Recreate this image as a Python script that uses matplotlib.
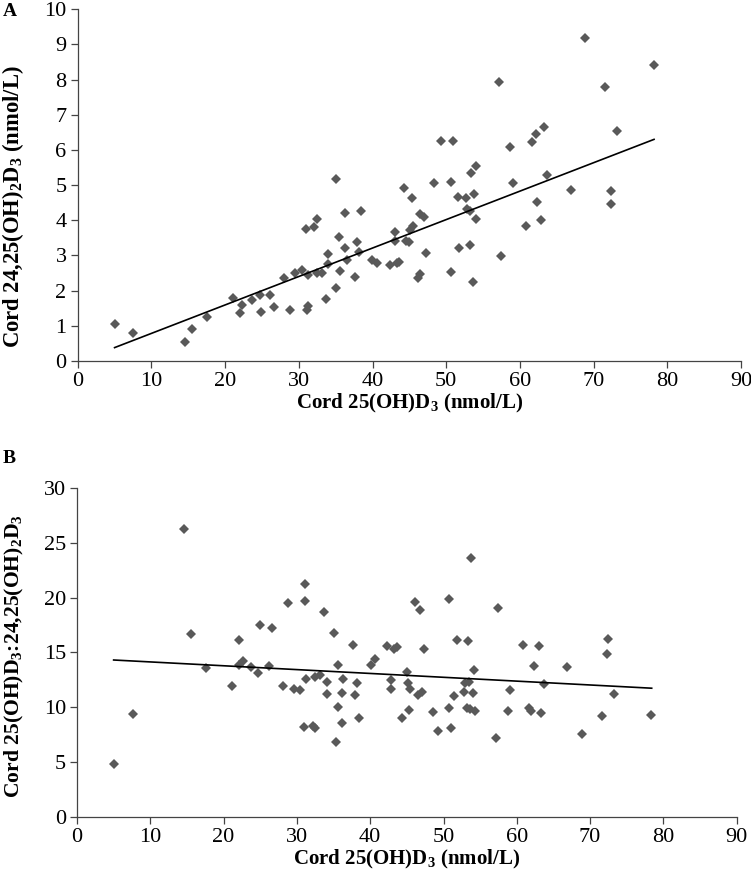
import matplotlib
matplotlib.use("Agg")
import matplotlib.pyplot as plt

plt.rcParams['font.family'] = ['Liberation Serif', 'DejaVu Serif']
plt.rcParams['mathtext.default'] = 'regular'

# Panel A: cord 25(OH)D3 vs cord 24,25(OH)2D3
a_x = [5.1, 7.5, 14.6, 15.5, 17.5, 21.1, 22.0, 22.3, 23.7, 24.7, 24.9, 26.1, 26.6, 28.0, 28.8,
       29.5, 30.4, 31.0, 31.1, 31.2, 31.3, 32.0, 32.4, 32.4, 33.1, 33.7, 33.9, 34.0, 35.0, 35.1,
       35.5, 35.6, 36.2, 36.2, 36.5, 37.6, 37.9, 38.1, 38.4, 39.9, 40.6, 42.4, 43.1, 43.1, 43.3,
       43.6, 44.3, 44.5, 44.9, 45.1, 45.4, 45.5, 46.2, 46.4, 46.4, 47.0, 47.3, 48.4, 49.3, 50.6,
       50.7, 50.9, 51.6, 51.8, 52.7, 52.8, 53.3, 53.2, 53.6, 53.8, 54.1, 53.2, 54.0, 57.2, 57.4,
       58.7, 59.1, 60.8, 61.6, 62.2, 62.3, 62.9, 63.3, 63.7, 66.9, 68.8, 71.5, 72.3, 72.4, 73.2,
       78.2]
a_y = [1.04, 0.79, 0.54, 0.90, 1.26, 1.78, 1.35, 1.59, 1.73, 1.87, 1.40, 1.88, 1.54, 2.35, 1.45,
       2.49, 2.59, 3.74, 1.45, 1.56, 2.44, 3.82, 4.03, 2.49, 2.49, 1.76, 2.76, 3.04, 2.07, 5.18,
       3.53, 2.57, 4.21, 3.20, 2.87, 2.38, 3.39, 3.09, 4.27, 2.87, 2.79, 2.73, 3.67, 3.42, 2.79,
       2.82, 4.91, 3.42, 3.39, 3.72, 4.64, 3.84, 2.35, 2.47, 4.18, 4.10, 3.06, 5.07, 6.26, 2.54,
       5.09, 6.26, 4.67, 3.20, 4.64, 4.31, 5.34, 3.30, 2.24, 4.74, 5.55, 4.27, 4.04, 7.92, 2.99,
       6.09, 5.05, 3.84, 6.23, 6.45, 4.51, 4.01, 6.66, 5.28, 4.86, 9.18, 7.79, 4.84, 4.46, 6.54,
       8.43]
a_fit = (0.0809, -0.025)      # slope, intercept of the trend line
a_fit_range = (5.0, 78.2)

# Panel B: cord 25(OH)D3 vs ratio 25(OH)D3:24,25(OH)2D3
b_x = [5.05, 7.6, 14.6, 15.5, 17.6, 21.2, 22.1, 22.1, 22.6, 23.8, 24.7, 25.0, 26.2, 26.6, 28.1,
       28.8, 29.6, 30.4, 31.1, 31.1, 31.2, 31.0, 32.2, 32.5, 32.5, 33.1, 33.7, 34.1, 34.1, 35.1,
       35.3, 35.6, 35.6, 36.2, 36.3, 36.2, 37.6, 37.9, 38.2, 38.5, 40.1, 40.7, 42.3, 43.2, 43.6,
       42.9, 42.9, 44.4, 45.0, 45.2, 45.4, 45.3, 46.1, 46.8, 46.5, 47.0, 47.3, 48.5, 49.3, 50.7,
       50.7, 51.0, 51.4, 51.9, 53.4, 53.7, 54.2, 52.9, 53.5, 52.8, 54.0, 53.2, 53.6, 54.3, 57.2,
       57.5, 58.8, 59.1, 60.8, 61.6, 62.0, 62.3, 63.0, 63.3, 63.7, 66.9, 68.9, 71.6, 72.3, 72.5,
       73.3, 78.3]
b_y = [4.81, 9.38, 26.3, 16.7, 13.55, 11.9, 16.1, 13.9, 14.2, 13.7, 13.1, 17.5, 13.8, 17.2, 11.9,
       19.5, 11.7, 11.6, 21.3, 19.7, 12.6, 8.22, 8.28, 8.07, 12.8, 12.9, 18.7, 12.3, 11.2, 16.8,
       6.8, 13.85, 10.05, 11.3, 12.6, 8.53, 15.7, 11.1, 12.2, 8.98, 13.85, 14.4, 15.6, 15.3, 15.5,
       12.5, 11.7, 8.98, 13.2, 12.2, 11.7, 9.74, 19.6, 18.9, 11.1, 11.4, 15.3, 9.53, 7.85, 19.85,
       9.9, 8.07, 11.0, 16.1, 16.05, 23.65, 13.4, 12.2, 12.3, 11.4, 11.3, 9.95, 9.84, 9.68, 7.16,
       19.1, 9.65, 11.6, 15.7, 9.9, 9.65, 13.8, 15.6, 9.44, 12.1, 13.7, 7.52, 9.22, 14.9, 16.2,
       11.2, 9.29]
b_fit = (-0.0351, 14.49)
b_fit_range = (5.0, 78.4)

x_ticks = [0, 10, 20, 30, 40, 50, 60, 70, 80, 90]
a_yticks = [0, 1, 2, 3, 4, 5, 6, 7, 8, 9, 10]
b_yticks = [0, 5, 10, 15, 20, 25, 30]

xlabel = 'Cord 25(OH)D$_3$ (nmol/L)'
a_ylabel = 'Cord 24,25(OH)$_2$D$_3$ (nmol/L)'
b_ylabel = 'Cord 25(OH)D$_3$:24,25(OH)$_2$D$_3$'

MARKER_COLOR = '#595959'
TICK_FS = 16
LABEL_FS = 15

fig = plt.figure(figsize=(7.51, 8.86), dpi=100)
axA = fig.add_axes([0.1035, 0.5926, 0.8832, 0.3969])
axB = fig.add_axes([0.1025, 0.0782, 0.8785, 0.3707])


def style(ax, yticks, ylabel, ylabel_fs, x, y, fit, rng, xpad):
    ax.plot(x, y, linestyle='none', marker='D', markersize=5.4,
            color=MARKER_COLOR, markeredgewidth=0, zorder=3)
    ax.plot(list(rng), [fit[0] * v + fit[1] for v in rng], color='black', lw=1.2, zorder=4)
    ax.set_xlim(0, 90)
    ax.set_ylim(yticks[0], yticks[-1])
    ax.set_xticks(x_ticks)
    ax.set_yticks(yticks)
    for s in ('top', 'right'):
        ax.spines[s].set_visible(False)
    for s in ('left', 'bottom'):
        ax.spines[s].set_color('#444444')
        ax.spines[s].set_linewidth(0.9)
    ax.tick_params(direction='out', length=5, width=0.9, color='#444444',
                   labelsize=TICK_FS, pad=3)
    ax.set_xlabel(xlabel, fontsize=LABEL_FS, fontweight='bold', labelpad=xpad)
    ax.set_ylabel(ylabel, fontsize=ylabel_fs, fontweight='bold')


style(axA, a_yticks, a_ylabel, 16.3, a_x, a_y, a_fit, a_fit_range, 1)
style(axB, b_yticks, b_ylabel, 15.6, b_x, b_y, b_fit, b_fit_range, 1)

axA.yaxis.set_label_coords(-0.078, 0.44)
axB.yaxis.set_label_coords(-0.078, 0.49)

fig.text(0.004, 0.987, 'A', fontsize=14, fontweight='bold', va='center', ha='left')
fig.text(0.004, 0.483, 'B', fontsize=14, fontweight='bold', va='center', ha='left')

fig.savefig('out.png', dpi=100)
